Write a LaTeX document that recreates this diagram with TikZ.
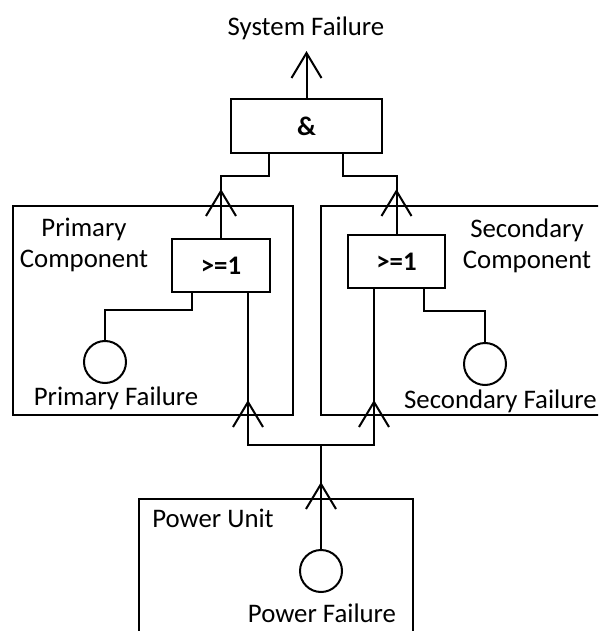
\documentclass[tikz,border=0pt]{standalone}
\usepackage{fontspec}
\setmainfont{Carlito}
\usetikzlibrary{calc}
\begin{document}
\begin{tikzpicture}[x=1pt,y=-1pt,
  every node/.style={font=\fontsize{26.8}{31}\selectfont},
  lw/.style={line width=2pt,line join=miter},
  boxnode/.style={draw,lw,rectangle,inner sep=0pt},
  gate/.style={boxnode,font=\fontsize{26.8}{31}\selectfont\bfseries},
  event/.style={draw,lw,circle,inner sep=0pt,minimum size=42pt},
  lbl/.style={inner sep=0pt,align=center},
  vport/.pic={\draw[lw] (-15,11) -- (0,-14) -- (15,11);}
]
\clip (0,0) rectangle (598,631);
\fill[white] (0,0) rectangle (598,631);

% containers
\node[boxnode,minimum width=280pt,minimum height=209pt] (pcomp) at (153,310.5) {};
\node[boxnode,minimum width=290pt,minimum height=209pt] (scomp) at (466,310.5) {};
\node[boxnode,minimum width=274pt,minimum height=150pt] (punit) at (276,574) {};

% gates
\node[gate,minimum width=151pt,minimum height=54pt] (and) at (306.5,126) {\&};
\node[gate,minimum width=98pt,minimum height=53pt] (por) at (221,265.5) {>=1};
\node[gate,minimum width=97pt,minimum height=53pt] (sor) at (396.5,261.5) {>=1};

% basic events
\node[event] (pf) at (105,362) {};
\node[event] (sf) at (485,364) {};
\node[event] (pwf) at (321,571) {};

% labels
\node[lbl] (sysf) at (306,28) {System Failure};
\node[lbl] (pcl) at (84,245) {Primary\\Component};
\node[lbl] (scl) at (527,246) {Secondary\\Component};
\node[lbl] (pfl) at (116,398) {Primary Failure};
\node[lbl,anchor=east] (sfl) at (597,401) {Secondary Failure};
\node[lbl] (pul) at (213,518) {Power Unit};
\node[lbl] (pwl) at (322,613) {Power Failure};

% junction
\coordinate (jn) at (321,445);
\coordinate (top) at (306.5,53);

% connectors
\draw[lw] (and.north) -- (top);
\pic at ($(top)+(0,14)$) {vport};
\draw[lw] ([xshift=-37.5pt]and.south) -- ++(0,22) -| (por.north);
\draw[lw] ([xshift=36.5pt]and.south) -- ++(0,22) -| (sor.north);
\draw[lw] (pf.north) -- ++(0,-30) -| ([xshift=-29pt]por.south);
\draw[lw] (sf.north) -- ++(0,-31) -| ([xshift=27.5pt]sor.south);
\draw[lw] ([xshift=27pt]por.south) |- (jn) -| ([xshift=-22.5pt]sor.south);
\draw[lw] (pwf.north) -- (jn);

% ports
\pic at (por.north |- pcomp.north) {vport};
\pic at (sor.north |- scomp.north) {vport};
\pic at ([xshift=27pt]por.south |- pcomp.south) {vport};
\pic at ([xshift=-22.5pt]sor.south |- scomp.south) {vport};
\pic at (pwf.north |- punit.north) {vport};
\end{tikzpicture}
\end{document}
